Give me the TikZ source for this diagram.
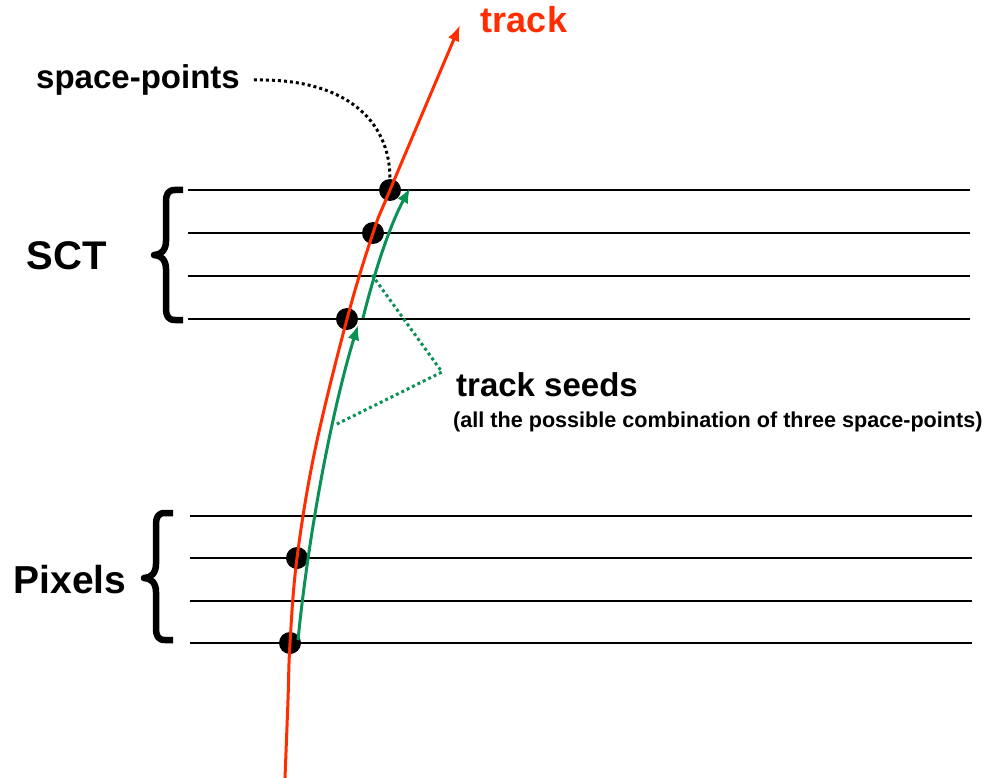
\documentclass[tikz,border=0pt]{standalone}
\usepackage{fontspec}
\setmainfont{Liberation Sans}
\usetikzlibrary{arrows.meta}
\definecolor{trackred}{RGB}{255,45,0}
\definecolor{seedgreen}{RGB}{10,145,85}
\begin{document}
\begin{tikzpicture}[x=1pt,y=-1pt,
  layer/.style={line width=2pt},
  hit/.style={circle,fill=black,minimum size=22pt,inner sep=0pt},
  lbl/.style={font=\bfseries\fontsize{#1}{#1}\selectfont,inner sep=0pt},
  trk/.style={trackred,line width=3pt,-{Latex[length=16pt,width=12pt]}},
  seed/.style={seedgreen,line width=3pt,-{Latex[length=15pt,width=12pt]}},
  pointer/.style={line width=3pt,dash pattern=on 3pt off 3pt}]
  \def\curly#1#2#3#4{\draw[line width=6.5pt,line join=round]
    (#1,#2) -- (#1-8,#2) .. controls (#1-15,#2) and (#1-17,#2+4) .. (#1-17,#2+12)
    -- (#1-17,#4-14) .. controls (#1-17,#4-5) and (#1-22,#4) .. (#1-29,#4)
    .. controls (#1-22,#4) and (#1-17,#4+5) .. (#1-17,#4+14)
    -- (#1-17,#3-12) .. controls (#1-17,#3-4) and (#1-15,#3) .. (#1-8,#3) -- (#1,#3);}

  \useasboundingbox (0,0) rectangle (987,778);

  % detector layers
  \foreach \y in {190,233,276,319} \draw[layer] (188,\y) -- (970,\y);
  \foreach \y in {516,558,601,643} \draw[layer] (190,\y) -- (972,\y);
  \curly{183}{190}{320}{255}
  \curly{173}{513}{640}{578}

  \node[lbl=40] (sct) at (67,256) {SCT};
  \node[lbl=39] (pix) at (70,580) {Pixels};

  % space-points
  \node[hit] (p1) at (290,643) {};
  \node[hit] (p2) at (297,558) {};
  \node[hit] (p3) at (347,319) {};
  \node[hit] (p4) at (373,233) {};
  \node[hit] (p5) at (390,190) {};

  % the track
  \coordinate (orig) at (285,778);
  \coordinate (end) at (460,25);
  \draw[trk] plot[smooth,tension=0.6] coordinates
    {(orig) (288,700) (p1.center) (p2.center) (315,450) (p3.center) (p4.center) (p5.center) (end)};
  \node[lbl=36,text=trackred] (trklbl) at (524,20) {track};

  % seeds
  \coordinate (s1a) at (298,640);
  \coordinate (s1b) at (358,325);
  \coordinate (s2a) at (363,318);
  \coordinate (s2b) at (410,188);
  \draw[seed] (s1a) .. controls (310,520) and (335,400) .. (s1b);
  \draw[seed] (s2a) .. controls (375,270) and (390,225) .. (s2b);

  \node[lbl=33,anchor=west] (seeds) at (456,385) {track seeds};
  \node[lbl=21.6,anchor=west] (comb) at (453,422) {(all the possible combination of three space-points)};
  \coordinate (c1) at (372,275);
  \coordinate (c2) at (442,372);
  \coordinate (c3) at (335,425);
  \draw[pointer,seedgreen] (c1) -- (c2) -- (c3);

  \node[lbl=33] (splbl) at (138,80) {space-points};
  \draw[pointer] ([xshift=14pt]splbl.east) .. controls (345,78) and (390,120) .. (p5.north);
\end{tikzpicture}
\end{document}
